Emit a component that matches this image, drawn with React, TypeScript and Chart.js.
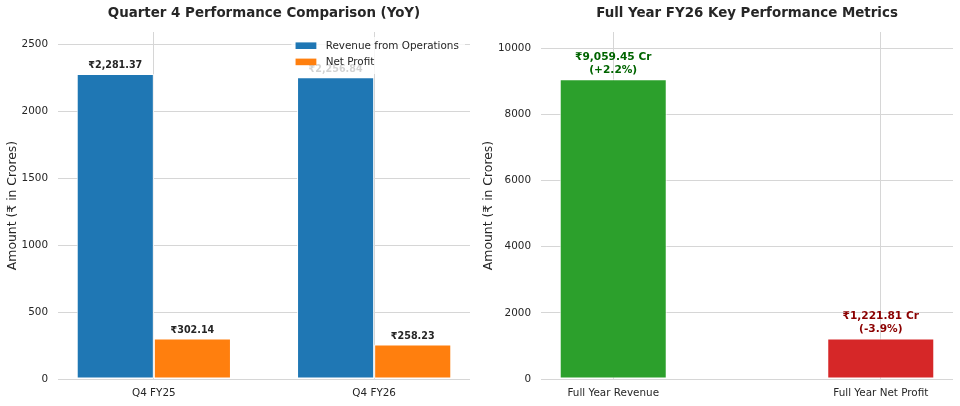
import { useEffect, useRef } from "react";
import { Chart, registerables } from "chart.js";

Chart.register(...registerables);

// Quarter 4 comparison (₹ in Crores)
const quarterCategories = ["Q4 FY25", "Q4 FY26"];
const quarterSeriesNames = ["Revenue from Operations", "Net Profit"];
const quarterRevenue = [2281.37, 2256.84];
const quarterProfit = [302.14, 258.23];
const quarterYTicks = [0, 500, 1000, 1500, 2000, 2500];

// Full year FY26 totals (₹ in Crores) and YoY change
const yearCategories = ["Full Year Revenue", "Full Year Net Profit"];
const yearValues = [9059.45, 1221.81];
const yearChanges = ["+2.2%", "-3.9%"];
const yearYTicks = [0, 2000, 4000, 6000, 8000, 10000];

const FONT = '"DejaVu Sans", sans-serif';
const TEXT = "#262626";
const GRID = "#d6d6d6";
const BLUE = "#1f77b4";
const ORANGE = "#ff7f0e";
const GREEN = "#2ca02c";
const RED = "#d62728";

const fmt = (v: number) =>
  v.toLocaleString("en-US", { minimumFractionDigits: 2, maximumFractionDigits: 2 });

function titlePlugin(id: string, text: string, yTitle: string, yTitleX: number) {
  return {
    id,
    afterDraw(chart: any) {
      const { ctx, chartArea } = chart;
      ctx.save();
      ctx.fillStyle = TEXT;
      ctx.font = `bold 13.4px ${FONT}`;
      ctx.textAlign = "center";
      ctx.textBaseline = "alphabetic";
      ctx.fillText(text, (chartArea.left + chartArea.right) / 2, 17);
      ctx.font = `12.4px ${FONT}`;
      ctx.translate(yTitleX, (chartArea.top + chartArea.bottom) / 2);
      ctx.rotate(-Math.PI / 2);
      ctx.fillText(yTitle, 0, 0);
      ctx.restore();
    },
  };
}

function axisOptions(
  xMin: number,
  xMax: number,
  categories: string[],
  yMax: number,
  yTicks: number[],
  yWidth: number
) {
  const tickFont = { family: FONT, size: 10.4 };
  return {
    x: {
      type: "linear",
      min: xMin,
      max: xMax,
      offset: false,
      grid: { color: GRID, lineWidth: 1, drawTicks: false, offset: false },
      border: { display: false },
      ticks: {
        color: TEXT,
        font: tickFont,
        padding: 8,
        includeBounds: false,
        autoSkip: false,
        maxRotation: 0,
        callback: (v: number) => categories[v] ?? "",
      },
      afterBuildTicks: (s: any) => {
        s.ticks = categories.map((_, i) => ({ value: i }));
      },
      afterFit: (s: any) => {
        s.height = 27;
      },
    },
    y: {
      type: "linear",
      min: 0,
      max: yMax,
      grid: { color: GRID, lineWidth: 1, drawTicks: false },
      border: { display: false },
      ticks: {
        color: TEXT,
        font: tickFont,
        padding: 10,
        includeBounds: false,
        callback: (v: number) => String(v),
      },
      afterBuildTicks: (s: any) => {
        s.ticks = yTicks.map((v) => ({ value: v }));
      },
      afterFit: (s: any) => {
        s.width = yWidth;
      },
    },
  };
}

function QuarterChart() {
  const ref = useRef<HTMLCanvasElement>(null);
  useEffect(() => {
    if (!ref.current) return;

    const valueLabels = {
      id: "quarterValueLabels",
      afterDatasetsDraw(chart: any) {
        const { ctx } = chart;
        ctx.save();
        ctx.font = `bold 9.6px ${FONT}`;
        ctx.fillStyle = TEXT;
        ctx.textAlign = "center";
        ctx.textBaseline = "alphabetic";
        chart.data.datasets.forEach((ds: any, di: number) => {
          const meta = chart.getDatasetMeta(di);
          meta.data.forEach((el: any, i: number) => {
            ctx.fillText("₹" + fmt(ds.data[i].y), el.x, el.y - 5.5);
          });
        });
        ctx.restore();
      },
    };

    // legend drawn last, over the bars and their labels, on a translucent white box
    const legendBox = {
      id: "quarterLegend",
      afterDraw(chart: any) {
        const { ctx, chartArea } = chart;
        const fs = 10.4;
        ctx.save();
        ctx.font = `${fs}px ${FONT}`;
        const textW = Math.max(...quarterSeriesNames.map((n) => ctx.measureText(n).width));
        const pad = 0.4 * fs;
        const handleW = 2 * fs;
        const gap = 0.8 * fs;
        const w = pad + handleW + gap + textW + pad + 3;
        const h = 37;
        const right = chartArea.right - 5;
        const top = chartArea.top + 5;
        const left = right - w;
        ctx.fillStyle = "rgba(255,255,255,0.8)";
        ctx.beginPath();
        ctx.roundRect(left, top, w, h, 2);
        ctx.fill();
        const colors = [BLUE, ORANGE];
        quarterSeriesNames.forEach((name, i) => {
          const cy = top + 8.7 + i * 16.2;
          ctx.fillStyle = colors[i];
          ctx.fillRect(left + pad, cy - 3.3, handleW, 6.6);
          ctx.fillStyle = TEXT;
          ctx.textAlign = "left";
          ctx.textBaseline = "middle";
          ctx.fillText(name, left + pad + handleW + gap + 1, cy + 0.5);
        });
        ctx.restore();
      },
    };

    const barStyle = {
      borderColor: "rgba(255,255,255,0.9)",
      borderWidth: 1,
      borderSkipped: false,
      categoryPercentage: 0.7,
      barPercentage: 1,
    };

    const chart = new Chart(ref.current, {
      type: "bar",
      data: {
        datasets: [
          {
            label: quarterSeriesNames[0],
            data: quarterRevenue.map((v, i) => ({ x: i, y: v })),
            backgroundColor: BLUE,
            ...barStyle,
          },
          {
            label: quarterSeriesNames[1],
            data: quarterProfit.map((v, i) => ({ x: i, y: v })),
            backgroundColor: ORANGE,
            ...barStyle,
          },
        ],
      } as any,
      options: {
        responsive: false,
        animation: false,
        layout: { padding: { left: 0, top: 32, right: 10, bottom: 0 } },
        plugins: {
          legend: { display: false },
          title: { display: false },
          tooltip: { enabled: false },
        },
        scales: axisOptions(-0.435, 1.435, quarterCategories, 2595, quarterYTicks, 58) as any,
      },
      plugins: [
        valueLabels,
        legendBox,
        titlePlugin("quarterTitle", "Quarter 4 Performance Comparison (YoY)", "Amount (₹ in Crores)", 16),
      ],
    });
    return () => chart.destroy();
  }, []);
  return (
    <canvas
      ref={ref}
      width={480}
      height={406}
      style={{ position: "absolute", left: 0, top: 0, width: 480, height: 406 }}
    />
  );
}

function YearChart() {
  const ref = useRef<HTMLCanvasElement>(null);
  useEffect(() => {
    if (!ref.current) return;
    const labelColors = ["#006400", "#8b0000"];

    const valueLabels = {
      id: "yearValueLabels",
      afterDatasetsDraw(chart: any) {
        const { ctx } = chart;
        ctx.save();
        ctx.font = `bold 10.6px ${FONT}`;
        ctx.textAlign = "center";
        ctx.textBaseline = "alphabetic";
        const meta = chart.getDatasetMeta(0);
        meta.data.forEach((el: any, i: number) => {
          ctx.fillStyle = labelColors[i];
          const base = el.y - 6.5;
          ctx.fillText(`₹${fmt(yearValues[i])} Cr`, el.x, base - 12.7);
          ctx.fillText(`(${yearChanges[i]})`, el.x, base);
        });
        ctx.restore();
      },
    };

    const chart = new Chart(ref.current, {
      type: "bar",
      data: {
        datasets: [
          {
            label: "FY26",
            data: yearValues.map((v, i) => ({ x: i, y: v })),
            backgroundColor: [GREEN, RED],
            borderColor: "rgba(255,255,255,0.9)",
            borderWidth: 1,
            borderSkipped: false,
            categoryPercentage: 0.4,
            barPercentage: 1,
          },
        ],
      } as any,
      options: {
        responsive: false,
        animation: false,
        layout: { padding: { left: 0, top: 32, right: 7, bottom: 0 } },
        plugins: {
          legend: { display: false },
          title: { display: false },
          tooltip: { enabled: false },
        },
        scales: axisOptions(-0.27, 1.27, yearCategories, 10490, yearYTicks, 61) as any,
      },
      plugins: [
        valueLabels,
        titlePlugin("yearTitle", "Full Year FY26 Key Performance Metrics", "Amount (₹ in Crores)", 12.4),
      ],
    });
    return () => chart.destroy();
  }, []);
  return (
    <canvas
      ref={ref}
      width={480}
      height={406}
      style={{ position: "absolute", left: 480, top: 0, width: 480, height: 406 }}
    />
  );
}

export default function App() {
  return (
    <div
      style={{
        position: "absolute",
        left: 0,
        top: 0,
        width: 960,
        height: 406,
        background: "#ffffff",
        overflow: "hidden",
      }}
    >
      <QuarterChart />
      <YearChart />
    </div>
  );
}
